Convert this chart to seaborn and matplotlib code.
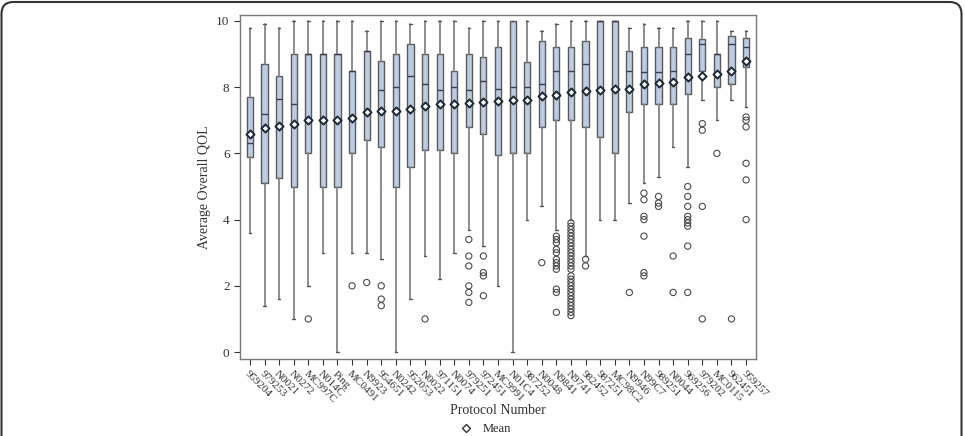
import pandas as pd
import seaborn as sns
import matplotlib.pyplot as plt
from matplotlib.lines import Line2D
from matplotlib.patches import FancyBboxPatch
from matplotlib.transforms import IdentityTransform

protocols = ["959204", "979253", "N0021", "N0272", "MC997C", "N014C", "Ping",
             "MC0491", "N9923", "954651", "N0242", "952053", "N0022", "971151",
             "N0074", "979251", "972451", "MC9991", "N01C4", "987252", "N0048",
             "N9841", "N9741", "982452", "987251", "MC98C2", "N9946", "N99C7",
             "989251", "N0044", "969256", "979202", "MC0115", "962451", "959257"]

whisker_low = [3.6, 1.4, 1.6, 1.0, 2.0, 3.0, 0.0, 3.0, 3.0, 2.8, 0.0, 1.6, 2.9, 2.2,
               3.0, 3.7, 3.2, 2.0, 0.0, 4.0, 4.4, 3.7, 4.0, 2.9, 4.0, 4.0, 4.5, 5.1,
               5.3, 6.2, 5.6, 7.6, 7.0, 7.6, 7.4]
q1 = [5.9, 5.1, 5.25, 5.0, 6.0, 5.0, 5.0, 6.0, 6.4, 6.2, 5.0, 5.6, 6.1, 6.1,
      6.0, 6.8, 6.6, 5.95, 6.0, 6.0, 6.8, 7.0, 7.0, 6.8, 6.5, 6.0, 7.25, 7.5,
      7.5, 7.5, 7.8, 8.5, 8.0, 8.1, 8.6]
median = [6.3, 7.2, 7.65, 7.5, 9.0, 9.0, 9.0, 8.5, 9.1, 7.9, 8.0, 8.33, 8.1, 7.9,
          8.0, 7.9, 8.2, 7.95, 8.0, 8.0, 8.1, 8.5, 8.5, 8.7, 10.0, 10.0, 8.5, 8.45,
          8.45, 8.5, 9.0, 9.3, 9.0, 9.3, 9.2]
q3 = [7.7, 8.7, 8.33, 9.0, 9.0, 9.0, 9.0, 8.5, 9.1, 8.8, 9.0, 9.3, 9.0, 9.0,
      8.5, 9.0, 8.9, 9.2, 10.0, 8.75, 9.4, 9.2, 9.2, 9.4, 10.0, 10.0, 9.1, 9.2,
      9.2, 9.2, 9.5, 9.45, 9.0, 9.55, 9.5]
whisker_high = [9.8, 9.9, 9.8, 10.0, 10.0, 10.0, 10.0, 10.0, 9.7, 10.0, 10.0, 9.9,
                10.0, 10.0, 10.0, 9.8, 10.0, 10.0, 10.0, 10.0, 9.7, 9.9, 10.0, 10.0,
                10.0, 10.0, 9.8, 9.9, 9.8, 9.8, 10.0, 10.0, 10.0, 9.7, 9.7]
means = [6.6, 6.76, 6.83, 6.88, 7.0, 7.02, 7.02, 7.07, 7.24, 7.27, 7.27, 7.34,
         7.42, 7.49, 7.49, 7.51, 7.54, 7.57, 7.6, 7.61, 7.74, 7.77, 7.84, 7.87,
         7.9, 7.94, 7.96, 8.09, 8.12, 8.17, 8.32, 8.34, 8.4, 8.49, 8.79]
outliers = [
    [], [], [], [], [1.0], [], [], [2.0], [2.1], [2.0, 1.6, 1.4], [], [], [1.0], [],
    [], [3.4, 2.9, 2.6, 2.0, 1.8, 1.5], [2.9, 2.4, 2.3, 1.7], [], [], [], [2.7],
    [3.5, 3.4, 3.3, 3.1, 3.0, 2.8, 2.7, 2.6, 2.5, 1.9, 1.8, 1.2],
    [3.9, 3.8, 3.7, 3.6, 3.5, 3.4, 3.3, 3.2, 3.1, 3.0, 2.9, 2.8, 2.7, 2.6, 2.5,
     2.3, 2.2, 2.1, 2.0, 1.9, 1.8, 1.7, 1.6, 1.5, 1.4, 1.3, 1.2, 1.1],
    [2.8, 2.6], [], [], [1.8], [4.8, 4.6, 4.1, 4.0, 3.5, 2.4, 2.3], [4.7, 4.5, 4.4],
    [2.9, 1.8], [5.0, 4.7, 4.4, 4.1, 4.0, 3.9, 3.8, 3.2, 1.8], [6.9, 6.7, 4.4, 1.0],
    [6.0], [1.0], [7.1, 7.0, 6.8, 5.7, 5.2, 4.0]]

sns.set_style("ticks")
plt.rcParams["font.family"] = ["Liberation Serif", "DejaVu Serif"]

fig = plt.figure(figsize=(9.65, 4.36), dpi=100)
ax = fig.add_axes([240 / 965, 1 - 359 / 436, 516 / 965, 344 / 436])

# box stats
stats = []
for i, name in enumerate(protocols):
    stats.append({"label": name, "whislo": whisker_low[i], "q1": q1[i],
                  "med": median[i], "q3": q3[i], "whishi": whisker_high[i],
                  "mean": means[i], "fliers": []})

pos = list(range(len(protocols)))
ax.bxp(stats, positions=pos, widths=0.42, capwidths=0.18, patch_artist=True,
       showfliers=False, showmeans=False,
       boxprops=dict(facecolor="#bccde3", edgecolor="#5a5a5a", linewidth=1.0),
       whiskerprops=dict(color="#858585", linewidth=1.3),
       capprops=dict(color="#555555", linewidth=1.0),
       medianprops=dict(color="#3a3a4a", linewidth=1.0))

# outliers
rows = [(i, v) for i, vals in enumerate(outliers) for v in vals]
out_df = pd.DataFrame(rows, columns=["pos", "value"])
sns.scatterplot(data=out_df, x="pos", y="value", ax=ax, marker="o", s=20,
                facecolor="none", edgecolor="#4a4a4a", linewidth=0.8, zorder=4)

# means
mean_df = pd.DataFrame({"pos": pos, "mean": means})
sns.scatterplot(data=mean_df, x="pos", y="mean", ax=ax, marker="D", s=17,
                color="white", edgecolor="#1b2838", linewidth=1.4, zorder=5)

ax.set_xlim(-0.68, len(protocols) - 1 + 0.68)
ax.set_ylim(-0.21, 10.18)
ax.set_yticks([0, 2, 4, 6, 8, 10])
ax.set_xticks(pos)
ax.set_xticklabels(protocols, rotation=-45, ha="left", rotation_mode="anchor",
                   fontsize=8, color="#333333")
ax.tick_params(axis="y", labelsize=9.5, colors="#333333", length=4, width=0.8)
ax.tick_params(axis="x", length=4, width=0.8, colors="#333333")
for s in ax.spines.values():
    s.set_color("#7a7a7a")
    s.set_linewidth(1.0)
ax.set_xlabel("Protocol Number", fontsize=10, color="#333333")
ax.xaxis.set_label_coords(0.5, (359 - 404) / 344)
ax.set_ylabel("Average Overall QOL", fontsize=10, color="#333333")
ax.yaxis.set_label_coords((211 - 240) / 516, 0.5)

handle = Line2D([], [], marker="D", linestyle="none", markersize=4,
                markerfacecolor="white", markeredgecolor="#333333",
                markeredgewidth=1.0)
fig.legend([handle], ["Mean"], loc="center", bbox_to_anchor=(0.5, 1 - 429 / 436),
           frameon=False, fontsize=9, handletextpad=0.3, borderpad=0)

# outer rounded frame of the figure panel
frame = FancyBboxPatch((1.5, -30), 960, 464, boxstyle="round,pad=0,rounding_size=12",
                       transform=IdentityTransform(), facecolor="none",
                       edgecolor="#333333", linewidth=1.5)
fig.patches.append(frame)

fig.savefig("out.png", dpi=100)
